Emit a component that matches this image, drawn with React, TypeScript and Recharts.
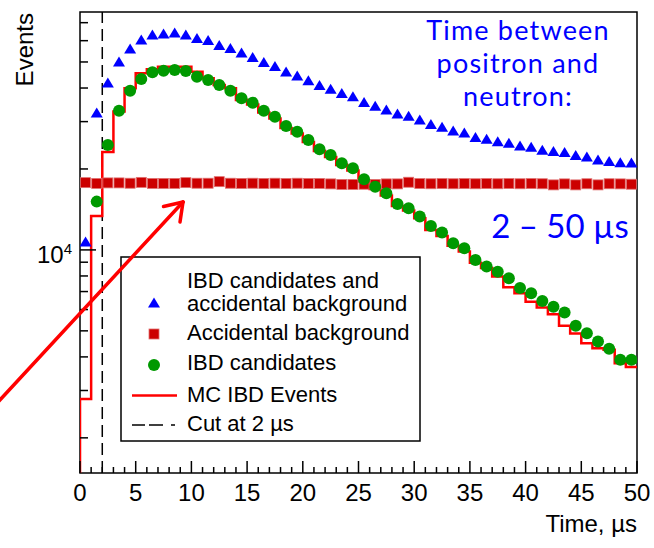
import {
  ComposedChart,
  Line,
  Scatter,
  XAxis,
  YAxis,
  ReferenceLine,
  ReferenceArea,
} from "recharts";

// 1 us bins from 0 to 50 us
const binCenters = Array.from({ length: 50 }, (_, i) => i + 0.5);
const binEdges = Array.from({ length: 51 }, (_, i) => i);

// IBD candidates and accidental background (blue triangles)
const totalCounts = [
  10710, 32310, 41760, 50000, 55880, 60340, 62980, 63530, 64070, 62980,
  61110, 60080, 57580, 56120, 54000, 51950, 49780, 48110, 45890, 44350,
  42600, 40880, 39570, 38180, 37150, 35340, 34220, 33150, 32030, 31410,
  30430, 29280, 28580, 27700, 27220, 26200, 25800, 25270, 24930, 24320,
  24110, 23470, 23230, 23040, 22460, 22170, 21610, 21330, 21110, 21060,
];

// Accidental background (dark red squares)
const accidentalCounts = [
  17790, 17670, 17750, 17750, 17700, 17830, 17670, 17670, 17670, 17790,
  17700, 17700, 17940, 17700, 17670, 17700, 17670, 17700, 17670, 17700,
  17670, 17670, 17600, 17520, 17520, 17550, 17520, 17600, 17600, 17850,
  17650, 17620, 17650, 17620, 17650, 17620, 17650, 17620, 17650, 17620,
  17650, 17620, 17450, 17600, 17450, 17620, 17450, 17620, 17600, 17550,
];

// IBD candidates (green circles); first bin is below zero after subtraction
const ibdCounts = [
  null, 15120, 24570, 32950, 39100, 43220, 45770, 46400, 46680, 46280,
  44090, 42850, 41060, 39100, 36640, 35280, 32950, 31300, 28910, 27530,
  25640, 23680, 22550, 21010, 20120, 18320, 17190, 16250, 14830, 14290,
  13300, 12280, 11600, 10590, 10150, 9180, 8670, 8300, 7850, 7210,
  6900, 6460, 6140, 5850, 5220, 4900, 4560, 4290, 3900, 3900,
];

// MC IBD events histogram (red step line)
const mcCounts = [
  2790, 13380, 23140, 32680, 39920, 45380, 46960, 48020, 48020, 48020,
  46010, 43480, 41060, 39920, 36120, 34740, 32450, 30830, 28410, 27110,
  25200, 23340, 22170, 20700, 19750, 17970, 16860, 15950, 14570, 14020,
  13110, 11870, 11270, 10370, 9860, 8950, 8570, 7960, 7260, 6900,
  6420, 6110, 5760, 5220, 4890, 4500, 4310, 4250, 3790, 3670,
];

const xTicks = binEdges;
const yTicks = [
  2000, 3000, 4000, 5000, 6000, 7000, 8000, 9000, 10000, 20000, 30000,
  40000, 50000, 60000, 70000,
];
const yMin = 1480;
const yMax = 76700;
const cutTime = 2;

const FONT = "'Liberation Sans', Arial, Helvetica, sans-serif";
const BLUE = "#0000ff";
const DARK_RED = "#cc0000";
const GREEN = "#009900";
const RED = "#ff0000";

type Row = { t: number; v: number };

const toRows = (vals: (number | null)[]): Row[] =>
  binCenters
    .map((t, i) => ({ t, v: vals[i] as number }))
    .filter((r) => r.v != null);

// histogram outline: starts at the axis floor, steps at each bin edge
const mcRows: Row[] = [
  { t: 0, v: yMin },
  ...mcCounts.map((v, i) => ({ t: binEdges[i], v })),
  { t: 50, v: mcCounts[mcCounts.length - 1] },
];

const triangle = (cx: number, cy: number, color: string) => (
  <path
    d={`M${cx},${cy - 5.5} L${cx + 6},${cy + 4.5} L${cx - 6},${cy + 4.5} Z`}
    fill={color}
  />
);
const square = (cx: number, cy: number, color: string) => (
  <rect x={cx - 5} y={cy - 5} width={10} height={10} fill={color} stroke="#e07070" strokeWidth={0.8} />
);
const circle = (cx: number, cy: number, color: string) => (
  <circle cx={cx} cy={cy} r={6} fill={color} />
);

const XTick = (props: any) => {
  const { x, y, payload } = props;
  const major = payload.value % 5 === 0;
  return (
    <g>
      <line x1={x} x2={x} y1={y} y2={y - (major ? 12 : 6)} stroke="#000" strokeWidth={1.5} />
      {major && (
        <text x={x} y={y + 28} textAnchor="middle" fontFamily={FONT} fontSize={24} fill="#000">
          {payload.value}
        </text>
      )}
    </g>
  );
};

const YTick = (props: any) => {
  const { x, y, payload } = props;
  const major = payload.value === 10000;
  return (
    <g>
      <line x1={x} x2={x + (major ? 16 : 8)} y1={y} y2={y} stroke="#000" strokeWidth={1.5} />
      {major && (
        <text x={x - 8} y={y + 13} textAnchor="end" fontFamily={FONT} fontSize={24} fill="#000">
          10
          <tspan dy={-9} fontSize={15}>
            4
          </tspan>
        </text>
      )}
    </g>
  );
};

const legendX = 121;
const legendY = 257;

export default function App() {
  return (
    <div style={{ position: "absolute", left: 0, top: 0, width: 654, height: 548, background: "#fff" }}>
      <ComposedChart
        width={654}
        height={548}
        data={mcRows}
        margin={{ top: 12, right: 17, bottom: 0, left: 0 }}
      >
        <XAxis
          type="number"
          dataKey="t"
          domain={[0, 50]}
          ticks={xTicks}
          interval={0}
          allowDataOverflow
          axisLine={false}
          tickLine={false}
          tickSize={0}
          tickMargin={0}
          height={75}
          tick={XTick}
        />
        <YAxis
          type="number"
          dataKey="v"
          scale="log"
          domain={[yMin, yMax]}
          ticks={yTicks}
          interval={0}
          allowDataOverflow
          axisLine={false}
          tickLine={false}
          tickSize={0}
          tickMargin={0}
          width={80}
          tick={YTick}
        />
        <ReferenceLine x={cutTime} stroke="#000" strokeWidth={1.5} strokeDasharray="12 6" />
        <Scatter
          data={toRows(accidentalCounts)}
          isAnimationActive={false}
          shape={(p: any) => square(p.cx, p.cy, DARK_RED)}
        />
        <Scatter
          data={toRows(totalCounts)}
          isAnimationActive={false}
          shape={(p: any) => triangle(p.cx, p.cy, BLUE)}
        />
        <Line
          type="stepAfter"
          dataKey="v"
          stroke={RED}
          strokeWidth={2.5}
          dot={false}
          activeDot={false}
          isAnimationActive={false}
        />
        <Scatter
          data={toRows(ibdCounts)}
          isAnimationActive={false}
          shape={(p: any) => circle(p.cx, p.cy, GREEN)}
        />
        <ReferenceArea
          x1={0}
          x2={50}
          y1={yMin}
          y2={yMax}
          fill="none"
          fillOpacity={0}
          stroke="#000"
          strokeWidth={1.5}
          ifOverflow="visible"
        />
      </ComposedChart>

      <svg
        width={654}
        height={548}
        style={{ position: "absolute", left: 0, top: 0, pointerEvents: "none" }}
      >
        <text transform="rotate(-90)" x={-13} y={33} textAnchor="end" fontFamily={FONT} fontSize={24} fill="#000">
          Events
        </text>
        <text x={637} y={532} textAnchor="end" fontFamily={FONT} fontSize={24} fill="#000">
          Time, µs
        </text>

        <g fontFamily="Lato, 'Open Sans', sans-serif" fill={BLUE} textAnchor="middle">
          <text x={518} y={40} fontSize={27} letterSpacing={1.2}>Time between</text>
          <text x={518} y={73} fontSize={27} letterSpacing={1.2}>positron and</text>
          <text x={518} y={106} fontSize={27} letterSpacing={1.2}>neutron:</text>
          <text x={560} y={238} fontSize={33}>2 – 50 µs</text>
        </g>

        <g>
          <rect x={legendX} y={legendY} width={299} height={184} fill="#fff" stroke="#000" strokeWidth={1.5} />
          {triangle(154, 303, BLUE)}
          {square(154, 334, DARK_RED)}
          {circle(154, 365, GREEN)}
          <line x1={132} x2={177} y1={395.5} y2={395.5} stroke={RED} strokeWidth={2.5} />
          <line x1={132} x2={177} y1={425} y2={425} stroke="#000" strokeWidth={1.5} strokeDasharray="13 4 14 8 4 2" />
          <g fontFamily={FONT} fontSize={22} fill="#000">
            <text x={187} y={288}>IBD candidates and</text>
            <text x={187} y={311}>accidental background</text>
            <text x={187} y={340}>Accidental background</text>
            <text x={187} y={370}>IBD candidates</text>
            <text x={187} y={402}>MC IBD Events</text>
            <text x={187} y={431}>Cut at 2 µs</text>
          </g>
        </g>

        <g stroke={RED} strokeWidth={3.5} strokeLinecap="round" fill="none">
          <line x1={-2} y1={402} x2={183} y2={202} />
          <line x1={183} y1={202} x2={163.5} y2={206.5} />
          <line x1={183} y1={202} x2={180} y2={222} />
        </g>
      </svg>
    </div>
  );
}
